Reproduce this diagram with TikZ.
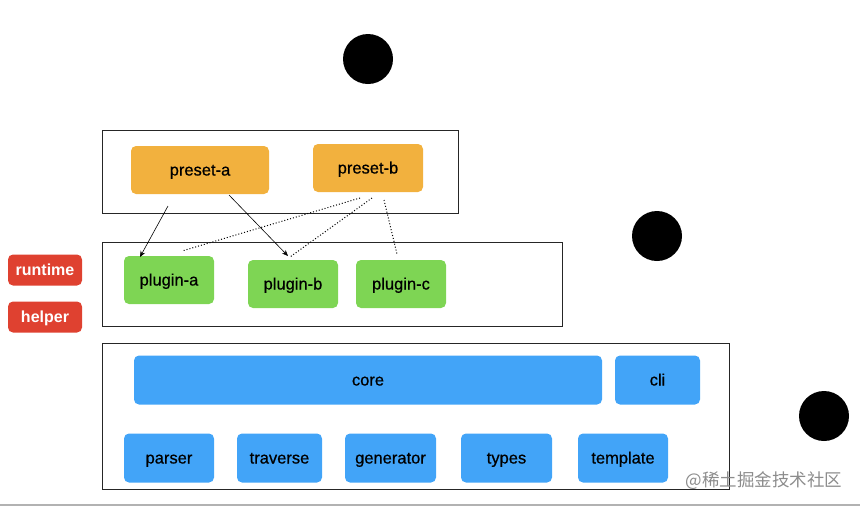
\documentclass[tikz,border=0pt]{standalone}
\usepackage{fontspec}
\setmainfont{Liberation Sans}
\newfontface\medfont{Liberation Sans}[FakeBold=0.6]
\newfontfamily\cjk{Noto Sans CJK SC}
\usetikzlibrary{arrows.meta}
\definecolor{orangebox}{HTML}{F2B13E}
\definecolor{greenbox}{HTML}{7ED554}
\definecolor{redbox}{HTML}{DF4130}
\definecolor{bluebox}{HTML}{42A4F8}
\tikzset{
  frame/.style={draw=black!85, line width=0.8pt},
  blk/.style={rounded corners=5pt, inner sep=0pt, text height=11pt, text depth=0pt,
    font=\medfont\fontsize{16.5}{19}\selectfont},
  redblk/.style={blk, fill=redbox, text=white, font=\bfseries\fontsize{16}{19}\selectfont,
    minimum width=74pt, minimum height=31pt},
  dot/.style={circle, fill=black, minimum size=50pt, inner sep=0pt},
  solidarrow/.style={-{Stealth[length=6pt,width=5pt]}, line width=0.6pt},
  dotline/.style={dotted, line width=1pt},
}
\begin{document}
\begin{tikzpicture}[x=1pt,y=-1pt]
\useasboundingbox (0,0) rectangle (860,507);
% circles
\node[dot] (c1) at (368,59) {};
\node[dot] (c2) at (657,236) {};
\node[dot] (c3) at (824,416) {};
% frames
\draw[frame] (102,130) rectangle (458,213);
\draw[frame] (102,242) rectangle (562,326);
\draw[frame] (102,343) rectangle (729,489);
% presets
\node[blk, fill=orangebox, minimum width=138pt, minimum height=48pt] (pa) at (200,170) {preset-a};
\node[blk, fill=orangebox, minimum width=110pt, minimum height=48pt] (pb) at (368,168) {preset-b};
% plugins
\node[blk, fill=greenbox, minimum width=90pt, minimum height=48pt] (pla) at (169,280) {plugin-a};
\node[blk, fill=greenbox, minimum width=90pt, minimum height=48pt] (plb) at (293,284) {plugin-b};
\node[blk, fill=greenbox, minimum width=90pt, minimum height=48pt] (plc) at (401,284) {plugin-c};
% side
\node[redblk] (rt) at (45,270) {runtime};
\node[redblk] (hp) at (45,317) {helper};
% core
\node[blk, fill=bluebox, minimum width=468pt, minimum height=49pt] (core) at (368,380) {core};
\node[blk, fill=bluebox, minimum width=85pt, minimum height=49pt] (cli) at (657.5,380) {cli};
\node[blk, fill=bluebox, minimum width=90pt, minimum height=49pt] (parser) at (169,458) {parser};
\node[blk, fill=bluebox, minimum width=85pt, minimum height=49pt] (trav) at (279.5,458) {traverse};
\node[blk, fill=bluebox, minimum width=91pt, minimum height=49pt] (gen) at (390.5,458) {generator};
\node[blk, fill=bluebox, minimum width=91pt, minimum height=49pt] (types) at (506.5,458) {types};
\node[blk, fill=bluebox, minimum width=90pt, minimum height=49pt] (tmpl) at (623,458) {template};
% connector endpoints
\coordinate (pa1) at (168,206);
\coordinate (pa2) at (229,195);
\coordinate (pb1) at (360,198);
\coordinate (pb2) at (372,198);
\coordinate (pb3) at (384,200);
\coordinate (ta) at (140,257);
\coordinate (tb) at (288,256);
\coordinate (da) at (182,251);
\coordinate (db) at (290,257);
\coordinate (dc) at (397,254);
\draw[solidarrow] (pa1) -- (ta);
\draw[solidarrow] (pa2) -- (tb);
\draw[dotline] (pb1) -- (da);
\draw[dotline] (pb2) -- (db);
\draw[dotline] (pb3) -- (dc);
% bottom line and watermark
\draw[black!30, line width=1.5pt] (0,505) -- (860,505);
\node[text=black!45, font=\cjk\fontsize{17.5}{20}\selectfont, inner sep=0pt] (wm) at (764,481) {@稀土掘金技术社区};
\end{tikzpicture}
\end{document}
